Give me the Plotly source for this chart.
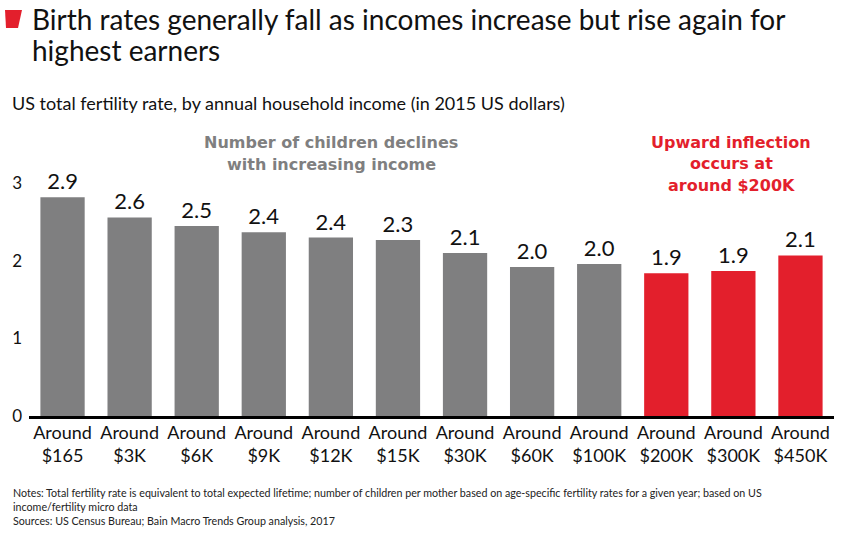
import plotly.graph_objects as go

categories = ["Around<br>$165", "Around<br>$3K", "Around<br>$6K", "Around<br>$9K", "Around<br>$12K",
              "Around<br>$15K", "Around<br>$30K", "Around<br>$60K", "Around<br>$100K", "Around<br>$200K",
              "Around<br>$300K", "Around<br>$450K"]
fertility = [2.82, 2.56, 2.45, 2.37, 2.30, 2.27, 2.10, 1.92, 1.96, 1.84, 1.87, 2.07]
value_labels = ["2.9", "2.6", "2.5", "2.4", "2.4", "2.3", "2.1", "2.0", "2.0", "1.9", "1.9", "2.1"]
highlight = [False] * 9 + [True] * 3
y_ticks = [0, 1, 2, 3]

title_lines = ["Birth rates generally fall as incomes increase but rise again for", "highest earners"]
subtitle = "US total fertility rate, by annual household income (in 2015 US dollars)"
grey_note = ["Number of children declines", "with increasing income"]
red_note = ["Upward inflection", "occurs at", "around $200K"]
footnotes = ["Notes: Total fertility rate is equivalent to total expected lifetime; number of children per mother based on age-specific fertility rates for a given year; based on US",
             "income/fertility micro data",
             "Sources: US Census Bureau; Bain Macro Trends Group analysis, 2017"]

GREY = "#7f7f80"
RED = "#e31f2c"
FONT = "Lato, 'Open Sans', sans-serif"
BOLD = "'DejaVu Sans', sans-serif"

W, H = 847, 537
L, R, T, B = 29, 13, 160, 121
PW, PH = W - L - R, H - T - B


def px(x):
    return (x - L) / PW


def py(y):
    return (H - B - y) / PH


fig = go.Figure()
fig.add_trace(go.Bar(
    x=categories, y=fertility,
    marker=dict(color=[RED if h else GREY for h in highlight], line=dict(width=0)),
    text=value_labels, textposition="outside", cliponaxis=False,
    textfont=dict(size=22, color="#111", family=FONT),
    hoverinfo="skip",
))

ann = []


def add_text(txt, x, y, size, color, family=FONT, xanchor="left", bold=False):
    ann.append(dict(x=px(x), y=py(y), xref="paper", yref="paper", xanchor=xanchor, yanchor="middle",
                    text=f"<b>{txt}</b>" if bold else txt, showarrow=False,
                    font=dict(size=size, color=color, family=family)))


for i, t in enumerate(title_lines):
    add_text(t, 30, 19 + i * 31, 28, "#111")
add_text(subtitle, 10, 103, 18, "#111")
for i, t in enumerate(grey_note):
    add_text(t, 331, 142 + i * 22, 16, GREY, family=BOLD, xanchor="center", bold=True)
for i, t in enumerate(red_note):
    add_text(t, 731, 142 + i * 21.5, 16, RED, family=BOLD, xanchor="center", bold=True)
for i, t in enumerate(footnotes):
    add_text(t, 11, 492 + i * 14, 10.7, "#222")

fig.update_layout(
    width=W, height=H,
    margin=dict(l=L, r=R, t=T, b=B, autoexpand=False),
    paper_bgcolor="white", plot_bgcolor="white",
    showlegend=False, bargap=0.34,
    font=dict(family=FONT, color="#111"),
    annotations=ann,
    shapes=[dict(type="path", xref="paper", yref="paper",
                 path=f"M {px(5)} {py(10)} L {px(22)} {py(10)} L {px(18)} {py(28)} L {px(6)} {py(28)} Z",
                 fillcolor=RED, line=dict(width=0))],
    xaxis=dict(showline=True, linecolor="black", linewidth=3, ticks="", showgrid=False,
               tickfont=dict(size=18, color="#111", family=FONT), ticklabelstandoff=-2, fixedrange=True),
    yaxis=dict(range=[0, 3.3], tickvals=y_ticks, showgrid=False, zeroline=False, showline=False,
               ticks="", tickfont=dict(size=17, color="#111", family=FONT), ticklabelstandoff=6,
               fixedrange=True),
)

fig.write_html("out.html", config={"displayModeBar": False},
               post_script="document.body.style.margin='0';")
